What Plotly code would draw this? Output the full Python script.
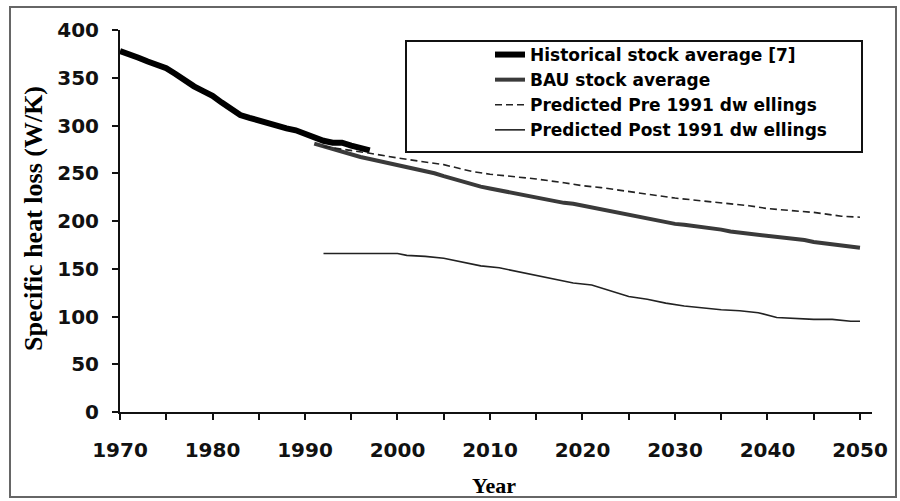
import plotly.graph_objects as go

# ---------------- data ----------------
hist_years = list(range(1970, 1998))
hist_vals = [378, 375, 371, 367, 364, 360, 354, 347, 341, 336, 331, 324, 317, 311,
             308, 305, 302, 299, 297, 295, 291, 287, 284, 282, 282, 279, 277, 274]

bau_years = list(range(1991, 2051))
bau_vals = [281, 278, 275, 272, 269, 267, 265, 263, 261, 259, 257, 255, 252, 250,
            247, 244, 241, 239, 236, 234, 232, 230, 228, 227, 225, 223, 221, 219,
            218, 216, 214, 212, 210, 208, 206, 204, 203, 201, 199, 197, 196, 195,
            193, 192, 191, 189, 188, 187, 186, 184, 183, 182, 181, 180, 178, 177,
            176, 175, 173, 172]

pre_years = [1992, 1995, 1997, 2000, 2003, 2005, 2008, 2010, 2013, 2015, 2018, 2020,
             2022, 2025, 2028, 2030, 2033, 2035, 2038, 2040, 2043, 2045, 2048, 2050]
pre_vals = [278, 274, 271, 266, 262, 259, 252, 249, 246, 244, 240, 237,
            235, 231, 227, 224, 221, 219, 216, 213, 211, 209, 205, 204]

post_years = [1992, 1995, 2000, 2001, 2003, 2005, 2007, 2009, 2011, 2013, 2015, 2017,
              2019, 2021, 2023, 2025, 2027, 2029, 2031, 2033, 2035, 2037, 2039, 2041,
              2043, 2045, 2047, 2049, 2050]
post_vals = [166, 166, 166, 164, 163, 161, 157, 153, 151, 147, 143, 139,
             135, 133, 127, 121, 118, 114, 111, 109, 107, 106, 104, 99,
             98, 97, 97, 95, 95]

series_names = ["Historical stock average [7]", "BAU stock average",
                "Predicted Pre 1991 dw ellings", "Predicted Post 1991 dw ellings"]

x_tickvals = list(range(1970, 2051, 5))
x_ticktext = [str(v) if v % 10 == 0 else "" for v in x_tickvals]
y_tickvals = list(range(0, 401, 50))

x_title = "Year"
y_title = "Specific heat loss (W/K)"

# ---------------- layout geometry (pixels) ----------------
W, H = 900, 501
L, R, T, B = 120, 872, 30, 412
PW, PH = R - L, B - T


def px(p):
    return (p - L) / PW


def py(p):
    return (B - p) / PH


fig = go.Figure()
fig.add_trace(go.Scatter(x=hist_years, y=hist_vals, mode="lines", name=series_names[0],
                         line=dict(color="#000000", width=6)))
fig.add_trace(go.Scatter(x=bau_years, y=bau_vals, mode="lines", name=series_names[1],
                         line=dict(color="#3a3a3a", width=4)))
fig.add_trace(go.Scatter(x=pre_years, y=pre_vals, mode="lines", name=series_names[2],
                         line=dict(color="#222222", width=1.6, dash="7px,4px")))
fig.add_trace(go.Scatter(x=post_years, y=post_vals, mode="lines", name=series_names[3],
                         line=dict(color="#222222", width=1.6)))

tickfont = dict(family="DejaVu Sans", size=20, color="#111111", weight="bold")

fig.update_layout(
    width=W, height=H,
    margin=dict(l=L, r=W - R, t=T, b=H - B),
    paper_bgcolor="white", plot_bgcolor="white",
    showlegend=True,
    legend=dict(x=px(490), y=py(37), xanchor="left", yanchor="top",
                bgcolor="rgba(0,0,0,0)", borderwidth=0,
                font=dict(family="DejaVu Sans", size=17, color="#000000", weight="bold"),
                tracegroupgap=0, itemwidth=30),
    xaxis=dict(range=[1970, 2051.3], tickvals=x_tickvals, ticktext=x_ticktext,
               ticks="outside", ticklen=6, tickwidth=2, tickcolor="#111111",
               showline=True, linecolor="#111111", linewidth=2,
               showgrid=False, zeroline=False, tickfont=tickfont,
               ticklabelstandoff=13),
    yaxis=dict(range=[0, 400], tickvals=y_tickvals,
               ticks="outside", ticklen=6, tickwidth=2, tickcolor="#111111",
               showline=True, linecolor="#111111", linewidth=2,
               showgrid=False, zeroline=False, tickfont=tickfont,
               ticklabelstandoff=9),
    shapes=[
        dict(type="rect", xref="paper", yref="paper",
             x0=px(406), x1=px(862), y0=py(152), y1=py(41),
             line=dict(color="#111111", width=2), fillcolor="white", layer="below"),
        dict(type="rect", xref="paper", yref="paper",
             x0=px(10), x1=px(896), y0=py(497), y1=py(7),
             line=dict(color="#666666", width=2), fillcolor="rgba(0,0,0,0)"),
    ],
    annotations=[
        dict(text=y_title, xref="paper", yref="paper", x=px(33), y=py(219),
             textangle=-90, showarrow=False, xanchor="center", yanchor="middle",
             font=dict(family="Liberation Serif", size=26, color="#000000", weight="bold")),
        dict(text=x_title, xref="paper", yref="paper", x=px(494), y=py(485),
             showarrow=False, xanchor="center", yanchor="middle",
             font=dict(family="Liberation Serif", size=22, color="#000000", weight="bold")),
    ],
)

fig.write_html("out.html", config={"displayModeBar": False},
               post_script="document.body.style.margin='0';document.body.style.overflow='hidden';")
